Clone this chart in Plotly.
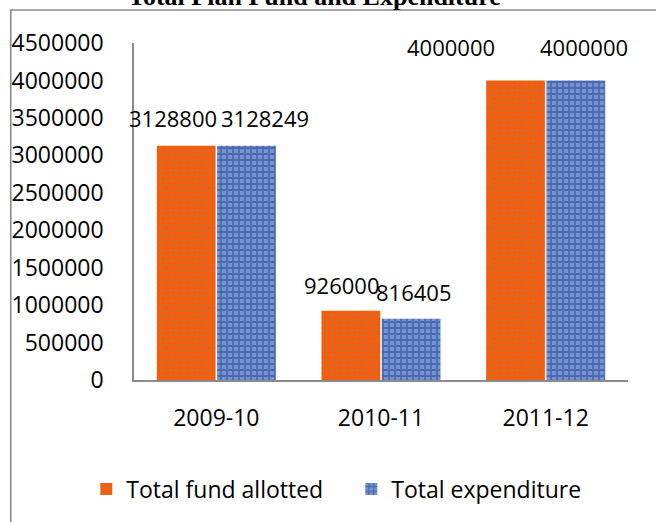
import plotly.graph_objects as go

# Plan fund data (Rs.)
years = ["2009-10", "2010-11", "2011-12"]
fund_allotted = [3128800, 926000, 4000000]
expenditure = [3128249, 816405, 4000000]
y_ticks = [0, 500000, 1000000, 1500000, 2000000, 2500000, 3000000, 3500000, 4000000, 4500000]

FONT = "Open Sans"
ORANGE = "#FF5A05"
BLUE = "#7393D3"

W, H = 656, 522
ML, MR, MT, MB = 131, 28, 43, 142

fig = go.Figure()
fig.add_trace(go.Bar(
    name="Total fund allotted", x=years, y=fund_allotted,
    marker=dict(color=ORANGE, line=dict(width=0),
                pattern=dict(shape=".", fgcolor="#6A8C7C", size=5, solidity=0.28)),
))
fig.add_trace(go.Bar(
    name="Total expenditure", x=years, y=expenditure,
    marker=dict(color=BLUE, line=dict(width=0),
                pattern=dict(shape="+", fgcolor="#254283", size=6, solidity=0.5)),
))

# value labels above each bar (pixel nudges keep neighbouring labels apart)
fund_shift = [(-13, 28), (-10, 26), (-65, 33)]
exp_shift = [(19, 28), (2, 27), (8, 33)]
for i, yr in enumerate(years):
    for vals, shifts, side in ((fund_allotted, fund_shift, -1), (expenditure, exp_shift, 1)):
        dx, dy = shifts[i]
        fig.add_annotation(
            x=yr, y=vals[i], xref="x", yref="y", text=str(vals[i]),
            showarrow=False, xshift=side * 30 + dx, yshift=dy,
            yanchor="middle", font=dict(family=FONT, size=22, color="black"),
        )

pw = W - ML - MR
ph = H - MT - MB


def px_x(p):
    return (p - ML) / pw


def px_y(p):
    return (H - MB - p) / ph


# chart title, partly above the page edge
fig.add_annotation(
    text="<b>Total Plan Fund and Expenditure</b>", xref="paper", yref="paper",
    x=px_x(313), y=px_y(13), xanchor="center", yanchor="bottom", showarrow=False,
    font=dict(family="Liberation Serif", size=26, color="black"),
)

# outer chart border
fig.add_shape(type="rect", xref="paper", yref="paper",
              x0=px_x(7), x1=px_x(W + 20), y0=px_y(H + 20), y1=px_y(10),
              line=dict(color="#8A8A8A", width=1.6), fillcolor="rgba(0,0,0,0)")

fig.update_layout(
    width=W, height=H,
    margin=dict(l=ML, r=MR, t=MT, b=MB),
    paper_bgcolor="white", plot_bgcolor="white",
    barmode="group", bargap=0.268, bargroupgap=0.025,
    font=dict(family=FONT, size=23, color="black"),
    showlegend=True,
    legend=dict(orientation="h", x=px_x(83), y=px_y(489), xanchor="left", yanchor="middle",
                font=dict(family=FONT, size=23, color="black"),
                entrywidth=220, itemclick=False),
)
fig.update_xaxes(type="category", range=[-0.5, 2.5], showline=True, linecolor="#8A8A8A",
                 linewidth=1.6, ticks="", showgrid=False, ticklabelstandoff=17,
                 tickfont=dict(size=23))
fig.update_yaxes(range=[0, 4500000], tickvals=y_ticks, ticktext=[str(v) for v in y_ticks],
                 showline=True, linecolor="#8A8A8A", linewidth=1.6, ticks="",
                 showgrid=False, zeroline=False, ticklabelstandoff=24, tickfont=dict(size=23))

fig.write_html("out.html")
